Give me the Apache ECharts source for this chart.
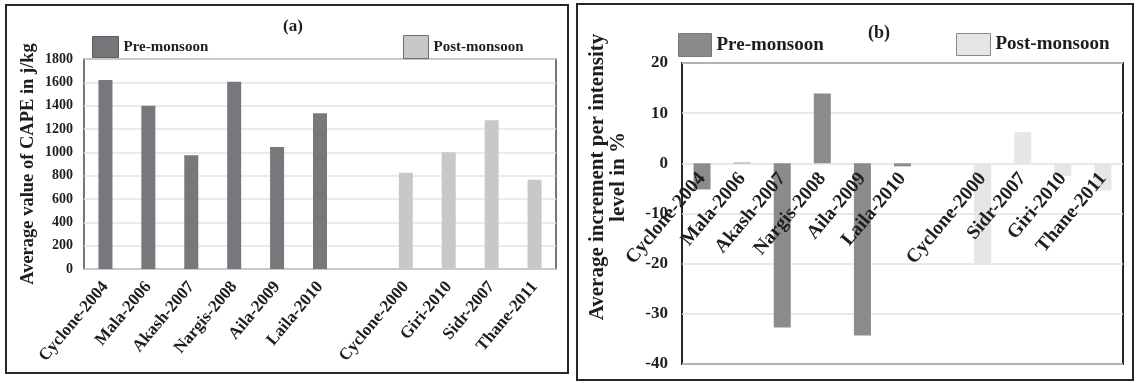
<!DOCTYPE html>
<html>
<head>
<meta charset="utf-8">
<script src="https://cdn.jsdelivr.net/npm/echarts@6/dist/echarts.min.js"></script>
<style>
html,body{margin:0;padding:0;background:#fff;}
#chart{width:1139px;height:383px;}
</style>
</head>
<body>
<div id="chart"></div>
<script>
// ---- Data ----
const categoriesA = ['Cyclone-2004','Mala-2006','Akash-2007','Nargis-2008','Aila-2009','Laila-2010','','Cyclone-2000','Giri-2010','Sidr-2007','Thane-2011'];
const preMonsoonA = [1620, 1400, 975, 1605, 1045, 1335, null, null, null, null, null];
const postMonsoonA = [null, null, null, null, null, null, null, 825, 1000, 1275, 765];
const yTicksA = {min: 0, max: 1800, interval: 200};

const categoriesB = ['Cyclone-2004','Mala-2006','Akash-2007','Nargis-2008','Aila-2009','Laila-2010','','Cyclone-2000','Sidr-2007','Giri-2010','Thane-2011'];
const preMonsoonB = [-5.2, 0.15, -32.7, 13.9, -34.3, -0.6, null, null, null, null, null];
const postMonsoonB = [null, null, null, null, null, null, null, -19.9, 6.2, -2.5, -5.4];
const yTicksB = {min: -40, max: 20, interval: 10};

const titleA = '(a)';
const titleB = '(b)';
const yNameA = 'Average value of CAPE in j/kg';
const yNameB = 'Average increment per intensity\nlevel in %';
const seriesNames = ['Pre-monsoon', 'Post-monsoon'];

// ---- Styles ----
const FONT = '"Liberation Serif", "Times New Roman", serif';
const TXT = '#1e1e1e';
const colA = ['#77787c', '#c7c8ca'];
const colB = ['#8b8b8d', '#e5e6e7'];

// ---- Layout ----
const gridB = {left: 682, top: 63, width: 441, height: 301};
// height of the part of grid B above the zero line (labels of panel (b) sit on the zero line)
const gridBUpper = gridB.height * (yTicksB.max - 0) / (yTicksB.max - yTicksB.min);

const chart = echarts.init(document.getElementById('chart'), null, {renderer: 'canvas'});

function legendItem(left, top, w, h, name, color, border, fs) {
  return {
    left: left, top: top, padding: 0, icon: 'rect', itemWidth: w, itemHeight: h,
    selectedMode: false,
    data: [{name: name, itemStyle: {color: color, borderColor: border, borderWidth: 1}}],
    textStyle: {fontFamily: FONT, fontWeight: 'bold', fontSize: fs, color: TXT}
  };
}

const plain = function (v) { return String(v); };

const option = {
  backgroundColor: '#ffffff',
  animation: false,
  grid: [
    {left: 84, top: 59, width: 472, height: 210, show: true, borderColor: '#4a4a4a', borderWidth: 1.5, containLabel: false, outerBoundsMode: 'none'},
    {left: gridB.left, top: gridB.top, width: gridB.width, height: gridB.height, show: true, borderColor: '#262626', borderWidth: 2, containLabel: false, outerBoundsMode: 'none'},
    {left: gridB.left, top: gridB.top, width: gridB.width, height: gridBUpper, show: false, containLabel: false, outerBoundsMode: 'none'}
  ],
  legend: [
    legendItem(92, 36, 26, 21, seriesNames[0], '#76767a', '#5c5c5e', 15),
    legendItem(403, 35, 25, 23, seriesNames[1], '#c8c8c9', '#6e6e70', 15),
    legendItem(678, 33, 33, 23, seriesNames[0], '#8a8a8c', '#7a7a7c', 19),
    legendItem(956, 33, 34, 22, seriesNames[1], '#e6e6e7', '#8a8a8c', 19)
  ],
  xAxis: [
    {
      type: 'category', gridIndex: 0, data: categoriesA,
      axisLine: {show: false}, axisTick: {show: false},
      axisLabel: {interval: 0, rotate: 50, margin: 15, fontFamily: FONT, fontWeight: 'bold', fontSize: 17, color: TXT}
    },
    {
      type: 'category', gridIndex: 1, data: categoriesB,
      axisLine: {show: false}, axisTick: {show: false},
      axisLabel: {show: false}
    },
    {
      type: 'category', gridIndex: 2, data: categoriesB, z: 10,
      axisLine: {show: false}, axisTick: {show: false},
      axisLabel: {interval: 0, rotate: 50, margin: 12, fontFamily: FONT, fontWeight: 'bold', fontSize: 19.5, color: TXT}
    }
  ],
  yAxis: [
    {
      type: 'value', gridIndex: 0, min: yTicksA.min, max: yTicksA.max, interval: yTicksA.interval,
      axisLine: {show: false}, axisTick: {show: false},
      splitLine: {show: true, lineStyle: {color: '#e4e4e4', width: 1.5}},
      axisLabel: {margin: 11, formatter: plain, fontFamily: FONT, fontWeight: 'bold', fontSize: 14, color: TXT},
      name: yNameA, nameLocation: 'middle', nameRotate: 90, nameGap: 46,
      nameTextStyle: {fontFamily: FONT, fontWeight: 'bold', fontSize: 18.5, color: TXT}
    },
    {
      type: 'value', gridIndex: 1, min: yTicksB.min, max: yTicksB.max, interval: yTicksB.interval,
      axisLine: {show: false}, axisTick: {show: false},
      splitLine: {show: true, lineStyle: {color: '#e2e2e2', width: 1.5}},
      axisLabel: {margin: 14, formatter: plain, fontFamily: FONT, fontWeight: 'bold', fontSize: 17, color: TXT}
    },
    {
      type: 'value', gridIndex: 2, min: 0, max: yTicksB.max, show: false
    }
  ],
  series: [
    {name: seriesNames[0], type: 'bar', xAxisIndex: 0, yAxisIndex: 0, data: preMonsoonA, barWidth: 14, barGap: '-100%', itemStyle: {color: colA[0]}},
    {name: seriesNames[1], type: 'bar', xAxisIndex: 0, yAxisIndex: 0, data: postMonsoonA, barWidth: 14, barGap: '-100%', itemStyle: {color: colA[1]}},
    {name: seriesNames[0], type: 'bar', xAxisIndex: 1, yAxisIndex: 1, data: preMonsoonB, barWidth: 17, barGap: '-100%', itemStyle: {color: colB[0]}},
    {name: seriesNames[1], type: 'bar', xAxisIndex: 1, yAxisIndex: 1, data: postMonsoonB, barWidth: 17, barGap: '-100%', itemStyle: {color: colB[1]}}
  ],
  graphic: [
    {type: 'rect', shape: {x: 6, y: 5, width: 562, height: 368}, style: {fill: 'none', stroke: '#262626', lineWidth: 2}, silent: true},
    {type: 'rect', shape: {x: 577, y: 4, width: 556, height: 376}, style: {fill: 'none', stroke: '#262626', lineWidth: 2}, silent: true},
    {type: 'text', x: 293, y: 27, style: {text: titleA, x: 0, y: 0, align: 'center', verticalAlign: 'middle', textAlign: 'center', textVerticalAlign: 'middle', font: 'bold 17px ' + FONT, fill: TXT}},
    {type: 'text', x: 879, y: 33, style: {text: titleB, x: 0, y: 0, align: 'center', verticalAlign: 'middle', textAlign: 'center', textVerticalAlign: 'middle', font: 'bold 18px ' + FONT, fill: TXT}},
    {type: 'text', x: 608, y: 177, rotation: Math.PI / 2, style: {text: yNameB, x: 0, y: 0, align: 'center', verticalAlign: 'middle', textAlign: 'center', textVerticalAlign: 'middle', lineHeight: 21, font: 'bold 21px ' + FONT, fill: TXT}}
  ]
};
chart.setOption(option);
</script>
</body>
</html>
